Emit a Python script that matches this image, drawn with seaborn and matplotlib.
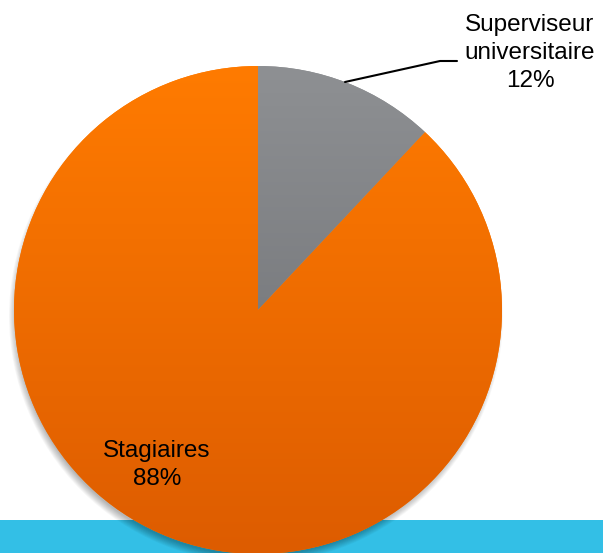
import numpy as np
import matplotlib
matplotlib.use("Agg")
import matplotlib.pyplot as plt
import seaborn as sns
from matplotlib.patches import Rectangle, Circle

sns.set_theme(style="white")
plt.rcParams['font.family'] = ['Liberation Sans', 'DejaVu Sans']

labels = ["Superviseur\nuniversitaire", "Stagiaires"]
values = [12, 88]
top_colors = ["#8E9093", "#FF7B00"]
bottom_colors = ["#686A6E", "#DD5C00"]

W, H = 603, 553
fig = plt.figure(figsize=(W / 100, H / 100), dpi=100)
ax = fig.add_axes([0, 0, 1, 1])

cx, cy, r = 258, H - 310, 244

# cyan band at the bottom
ax.add_patch(Rectangle((0, 0), W, 33, facecolor="#33BFE6", edgecolor="none", zorder=0))

# soft shadow (mostly below the pie)
for i in range(10):
    ax.add_patch(Circle((cx - 2, cy - 6), r + 3 - i * 0.8, facecolor="black",
                        edgecolor="none", alpha=0.03, zorder=1))

wedges, _ = ax.pie(values, center=(cx, cy), radius=r, startangle=90,
                   counterclock=False, colors=top_colors,
                   wedgeprops=dict(linewidth=0), frame=True)

grad = np.linspace(0, 1, 256).reshape(-1, 1)
for w, ct, cb in zip(wedges, top_colors, bottom_colors):
    w.set_zorder(2)
    cmap = matplotlib.colors.LinearSegmentedColormap.from_list("g", [cb, ct])
    im = ax.imshow(grad, cmap=cmap, origin="lower", aspect="auto",
                   extent=(cx - r, cx + r, cy - r, cy + r), zorder=3)
    im.set_clip_path(w)

ax.set_xlim(0, W)
ax.set_ylim(0, H)
ax.set_aspect("equal")
ax.axis("off")

# leader line
ax.plot([345, 440, 457], [H - 82, H - 61, H - 61], color="black", lw=1.5, zorder=4)

ax.text(530, H - 53, labels[0] + "\n" + f"{values[0]}%", ha="center", va="center",
        fontsize=17.5, linespacing=1.38, color="black", zorder=5)
ax.text(157, H - 465, labels[1] + "\n" + f"{values[1]}%", ha="center", va="center",
        fontsize=17.5, linespacing=1.38, color="black", zorder=5)

fig.savefig("out.png", dpi=100)
